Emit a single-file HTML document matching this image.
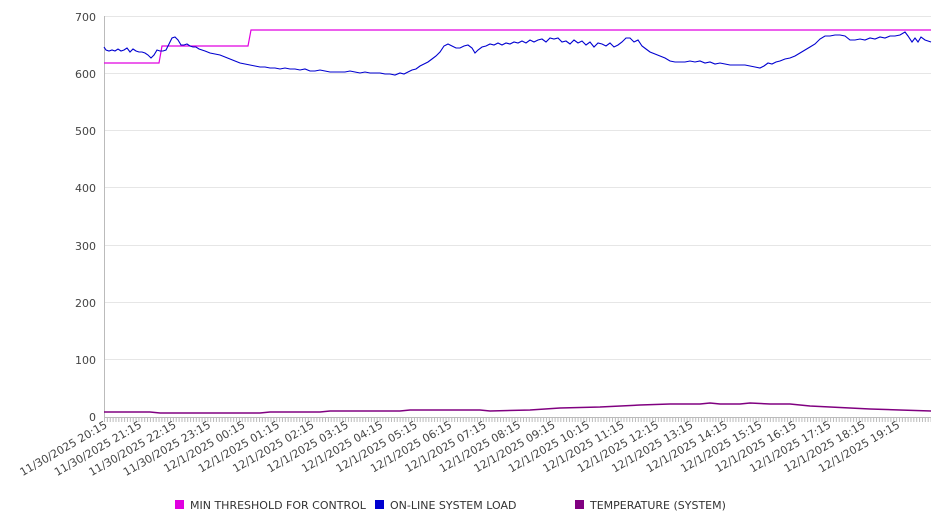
<!DOCTYPE html>
<html><head><style>body{margin:0;background:#fff}svg{display:block;font-family:"DejaVu Sans","Liberation Sans",sans-serif}</style></head>
<body>
<svg width="946" height="526" xmlns="http://www.w3.org/2000/svg">
<g stroke="#e6e6e6" stroke-width="1">
<line x1="104" x2="931" y1="16.5" y2="16.5"/><line x1="104" x2="931" y1="73.5" y2="73.5"/><line x1="104" x2="931" y1="130.5" y2="130.5"/><line x1="104" x2="931" y1="187.5" y2="187.5"/><line x1="104" x2="931" y1="245.5" y2="245.5"/><line x1="104" x2="931" y1="302.5" y2="302.5"/><line x1="104" x2="931" y1="359.5" y2="359.5"/>
</g>
<line x1="104.5" y1="16" x2="104.5" y2="417" stroke="#bbb"/>
<line x1="104" y1="417.5" x2="931" y2="417.5" stroke="#bbb"/>
<line x1="104" y1="420" x2="931" y2="420" stroke="#bbb" stroke-width="4" stroke-dasharray="1 1.87"/>
<g font-size="11" fill="#444" text-anchor="end">
<text x="96" y="21">700</text><text x="96" y="78">600</text><text x="96" y="135">500</text><text x="96" y="192">400</text><text x="96" y="250">300</text><text x="96" y="307">200</text><text x="96" y="364">100</text><text x="96" y="421">0</text>
</g>
<g font-size="11" fill="#444" text-anchor="end">
<text transform="translate(108,427) rotate(-30)">11/30/2025 20:15</text>
<text transform="translate(142.5,427) rotate(-30)">11/30/2025 21:15</text>
<text transform="translate(177,427) rotate(-30)">11/30/2025 22:15</text>
<text transform="translate(211.4,427) rotate(-30)">11/30/2025 23:15</text>
<text transform="translate(245.8,427) rotate(-30)">12/1/2025 00:15</text>
<text transform="translate(280.3,427) rotate(-30)">12/1/2025 01:15</text>
<text transform="translate(314.8,427) rotate(-30)">12/1/2025 02:15</text>
<text transform="translate(349.2,427) rotate(-30)">12/1/2025 03:15</text>
<text transform="translate(383.7,427) rotate(-30)">12/1/2025 04:15</text>
<text transform="translate(418.1,427) rotate(-30)">12/1/2025 05:15</text>
<text transform="translate(452.6,427) rotate(-30)">12/1/2025 06:15</text>
<text transform="translate(487.1,427) rotate(-30)">12/1/2025 07:15</text>
<text transform="translate(521.5,427) rotate(-30)">12/1/2025 08:15</text>
<text transform="translate(556,427) rotate(-30)">12/1/2025 09:15</text>
<text transform="translate(590.4,427) rotate(-30)">12/1/2025 10:15</text>
<text transform="translate(624.9,427) rotate(-30)">12/1/2025 11:15</text>
<text transform="translate(659.4,427) rotate(-30)">12/1/2025 12:15</text>
<text transform="translate(693.8,427) rotate(-30)">12/1/2025 13:15</text>
<text transform="translate(728.3,427) rotate(-30)">12/1/2025 14:15</text>
<text transform="translate(762.7,427) rotate(-30)">12/1/2025 15:15</text>
<text transform="translate(797.2,427) rotate(-30)">12/1/2025 16:15</text>
<text transform="translate(831.7,427) rotate(-30)">12/1/2025 17:15</text>
<text transform="translate(866.1,427) rotate(-30)">12/1/2025 18:15</text>
<text transform="translate(900.6,427) rotate(-30)">12/1/2025 19:15</text>
</g>
<polyline fill="none" stroke="#e000e0" stroke-width="1.2" points="104,63 159,63 162,46 248,46 251,30 931,30"/>
<polyline fill="none" stroke="#800080" stroke-width="1.5" points="104,412 150,412 160,413 260,413 270,412 320,412 330,411 400,411 410,410 480,410 490,411 530,410 560,408 600,407 640,405 670,404 700,404 710,403 720,404 740,404 750,403 770,404 790,404 810,406 830,407 850,408 870,409 900,410 931,411"/>
<polyline fill="none" stroke="#0000d0" stroke-width="1.1" points="104,47 106,50 109,51 112,50 115,51 118,49 121,51 124,50 127,48 130,52 133,49 136,51 139,52 142,52 145,53 148,55 151,58 154,55 157,50 160,51 163,51 166,50 169,44 172,38 175,37 178,40 181,45 184,45 187,44 190,46 193,47 196,47 199,49 205,51 210,53 215,54 220,55 225,57 230,59 235,61 240,63 245,64 250,65 255,66 260,67 265,67 270,68 275,68 280,69 285,68 290,69 295,69 300,70 305,69 310,71 315,71 320,70 325,71 330,72 335,72 340,72 345,72 350,71 355,72 360,73 365,72 370,73 375,73 380,73 385,74 390,74 395,75 400,73 404,74 408,72 412,70 416,69 420,66 424,64 428,62 432,59 436,56 440,52 444,46 448,44 452,46 456,48 460,48 464,46 468,45 472,48 475,53 478,50 482,47 486,46 490,44 494,45 498,43 502,45 506,43 510,44 514,42 518,43 522,41 526,43 530,40 534,42 538,40 542,39 546,42 550,38 554,39 558,38 562,42 566,41 570,44 574,40 578,43 582,41 586,45 590,42 594,47 598,43 602,44 606,46 610,43 614,47 618,45 622,42 626,38 630,38 634,42 638,40 642,46 646,49 650,52 655,54 660,56 665,58 670,61 675,62 680,62 685,62 690,61 695,62 700,61 705,63 710,62 715,64 720,63 725,64 730,65 735,65 740,65 745,65 750,66 755,67 760,68 764,66 768,63 772,64 776,62 780,61 785,59 790,58 795,56 800,53 805,50 810,47 815,44 820,39 825,36 830,36 835,35 840,35 845,36 850,40 855,40 860,39 865,40 870,38 875,39 880,37 885,38 890,36 895,36 900,35 905,32 908,36 912,42 915,38 918,42 921,37 925,40 931,42"/>
<g font-size="11" fill="#333">
<rect x="175" y="500" width="9" height="9" fill="#e000e0"/><text x="190" y="509">MIN THRESHOLD FOR CONTROL</text>
<rect x="375" y="500" width="9" height="9" fill="#0000d0"/><text x="390" y="509">ON-LINE SYSTEM LOAD</text>
<rect x="575" y="500" width="9" height="9" fill="#800080"/><text x="590" y="509">TEMPERATURE (SYSTEM)</text>
</g>
</svg>
</body></html>
